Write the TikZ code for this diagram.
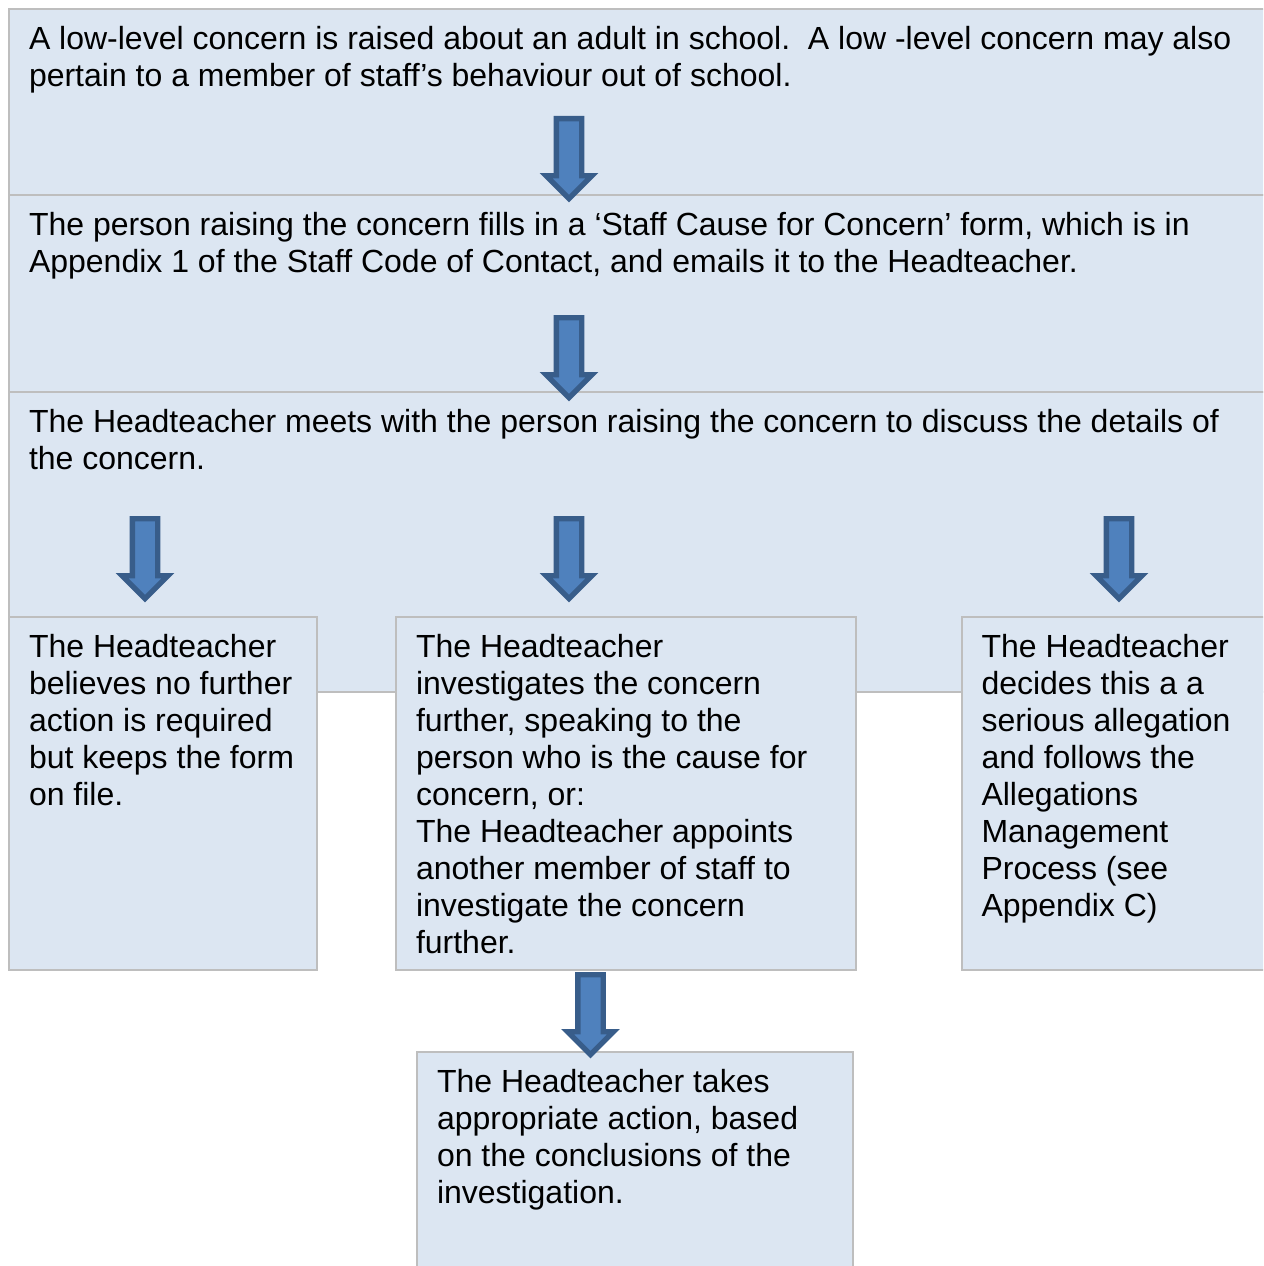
\documentclass[tikz,border=0pt]{standalone}
\usepackage{fontspec}
\setmainfont{Liberation Sans}
\usetikzlibrary{shapes.arrows}
\definecolor{boxfill}{RGB}{220,230,242}
\definecolor{boxline}{RGB}{190,190,190}
\definecolor{arrfill}{RGB}{79,129,189}
\definecolor{arrline}{RGB}{56,93,138}
\tikzset{
  flowbox/.style={draw=boxline, fill=boxfill, line width=1.5pt, outer sep=0pt,
    anchor=north west, align=flush left, inner xsep=15pt, inner ysep=0pt, text height=30.4pt,
    font=\fontsize{24pt}{27.75pt}\selectfont\frenchspacing},
  blockarrow/.style={single arrow, draw=arrline, fill=arrfill, line width=4pt,
    single arrow head extend=7.7pt, minimum width=30.4pt, minimum height=60pt,
    inner sep=7.5pt, shape border rotate=270, anchor=tail}
}

\begin{document}
\begin{tikzpicture}[x=0.75pt, y=-0.75pt]
      \path[use as bounding box, clip] (0, 0) rectangle (1263, 1266);

      \node[flowbox, text width=960pt, text depth=194.6pt] (meet) at (9, 392) {The Headteacher meets with the person raising the concern to discuss the details of\\ the concern.};
      \node[flowbox, text width=960pt, text depth=109.1pt] (raise) at (9, 9) {A low-level concern is raised about an adult in school.\ \ A low -level concern may also\\ pertain to a member of staff’s behaviour out of school.};
      \node[flowbox, text width=960pt, text depth=117.4pt] (form) at (9, 195) {The person raising the concern fills in a ‘Staff Cause for Concern’ form, which is in\\ Appendix 1 of the Staff Code of Contact, and emails it to the Headteacher.};

      \node[flowbox, text width=201pt, text depth=234.4pt] (nofurther) at (9, 617) {The Headteacher\\ believes no further\\ action is required\\ but keeps the form\\ on file.};
      \node[flowbox, text width=315pt, text depth=234.4pt] (investigate) at (396, 617) {The Headteacher\\ investigates the concern\\ further, speaking to the\\ person who is the cause for\\ concern, or:\\ The Headteacher appoints\\ another member of staff to\\ investigate the concern\\ further.};
      \node[flowbox, text width=210pt, text depth=234.4pt] (allegation) at (961.5, 617) {The Headteacher\\ decides this a a\\ serious allegation\\ and follows the\\ Allegations\\ Management\\ Process (see\\ Appendix C)};
      \node[flowbox, text width=297pt, text depth=133.1pt] (action) at (417, 1052) {The Headteacher takes\\ appropriate action, based\\ on the conclusions of the\\ investigation.};

      \node[blockarrow] (arr1) at (569, 116) {};
      \node[blockarrow] (arr2) at (569, 315) {};
      \node[blockarrow] (arr3) at (145, 516) {};
      \node[blockarrow] (arr4) at (569, 516) {};
      \node[blockarrow] (arr5) at (1119, 516) {};
      \node[blockarrow] (arr6) at (590.5, 972) {};
    \end{tikzpicture}
\end{document}
